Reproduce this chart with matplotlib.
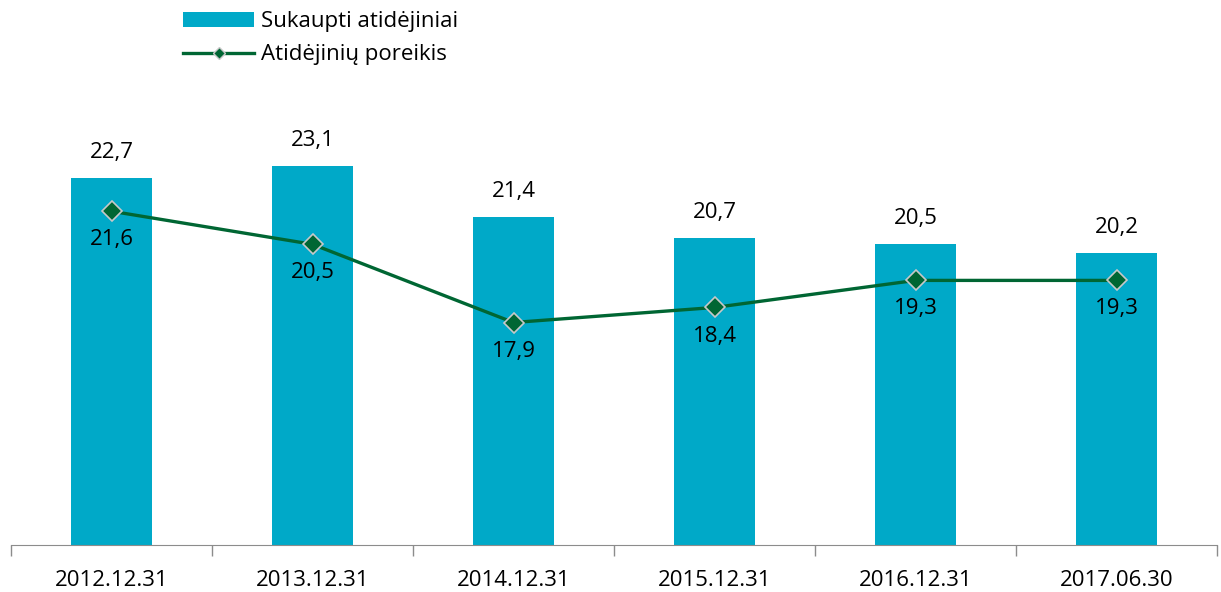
import matplotlib.pyplot as plt
import numpy as np
from matplotlib.lines import Line2D
from matplotlib.patches import Patch

categories = ["2012.12.31", "2013.12.31", "2014.12.31", "2015.12.31", "2016.12.31", "2017.06.30"]
accumulated = [22.7, 23.1, 21.4, 20.7, 20.5, 20.2]
required = [21.6, 20.5, 17.9, 18.4, 19.3, 19.3]
bar_label = "Sukaupti atidėjiniai"
line_label = "Atidėjinių poreikis"

BAR_COLOR = "#00A9C8"
LINE_COLOR = "#006633"

plt.rcParams["font.family"] = ["Open Sans", "DejaVu Sans"]

fig = plt.figure(figsize=(12.21, 5.92), dpi=100)
ax = fig.add_axes([11 / 1221, 1 - 545 / 592, 1206 / 1221, 445 / 592])

x = np.arange(len(categories))
ax.bar(x, accumulated, width=0.4, color=BAR_COLOR, zorder=2)
ax.plot(x, required, color=LINE_COLOR, lw=2.4, marker="D", markersize=10,
        markerfacecolor=LINE_COLOR, markeredgecolor="#c8c8c8", markeredgewidth=1.2, zorder=3)

for xi, v in zip(x, accumulated):
    ax.annotate(f"{v:.1f}".replace(".", ","), (xi, v), xytext=(0, 11), textcoords="offset points",
                ha="center", va="bottom", fontsize=16)
for xi, v in zip(x, required):
    ax.annotate(f"{v:.1f}".replace(".", ","), (xi, v), xytext=(0, -13), textcoords="offset points",
                ha="center", va="top", fontsize=16)

ax.set_xlim(-0.5, len(categories) - 0.5)
ax.set_ylim(10.5, 25.3)
ax.set_xticks(x, categories, fontsize=16)
ax.set_xticks(np.arange(len(categories) + 1) - 0.5, minor=True)
ax.tick_params(axis="x", which="major", length=0, pad=18)
ax.tick_params(axis="x", which="minor", length=8, color="#8c8c8c", width=1)
ax.set_yticks([])
for side in ("top", "right", "left"):
    ax.spines[side].set_visible(False)
ax.spines["bottom"].set_color("#8c8c8c")

handles = [
    Patch(facecolor=BAR_COLOR, label=bar_label),
    Line2D([], [], color=LINE_COLOR, lw=2.4, marker="D", markersize=6,
           markerfacecolor=LINE_COLOR, markeredgecolor="#c8c8c8", label=line_label),
]
fig.legend(handles=handles, loc="upper left", bbox_to_anchor=(163 / 1221, 1.015), frameon=False,
           fontsize=16, handlelength=3.2, handletextpad=0.3, labelspacing=0.55)

fig.savefig("out.png", dpi=100)
